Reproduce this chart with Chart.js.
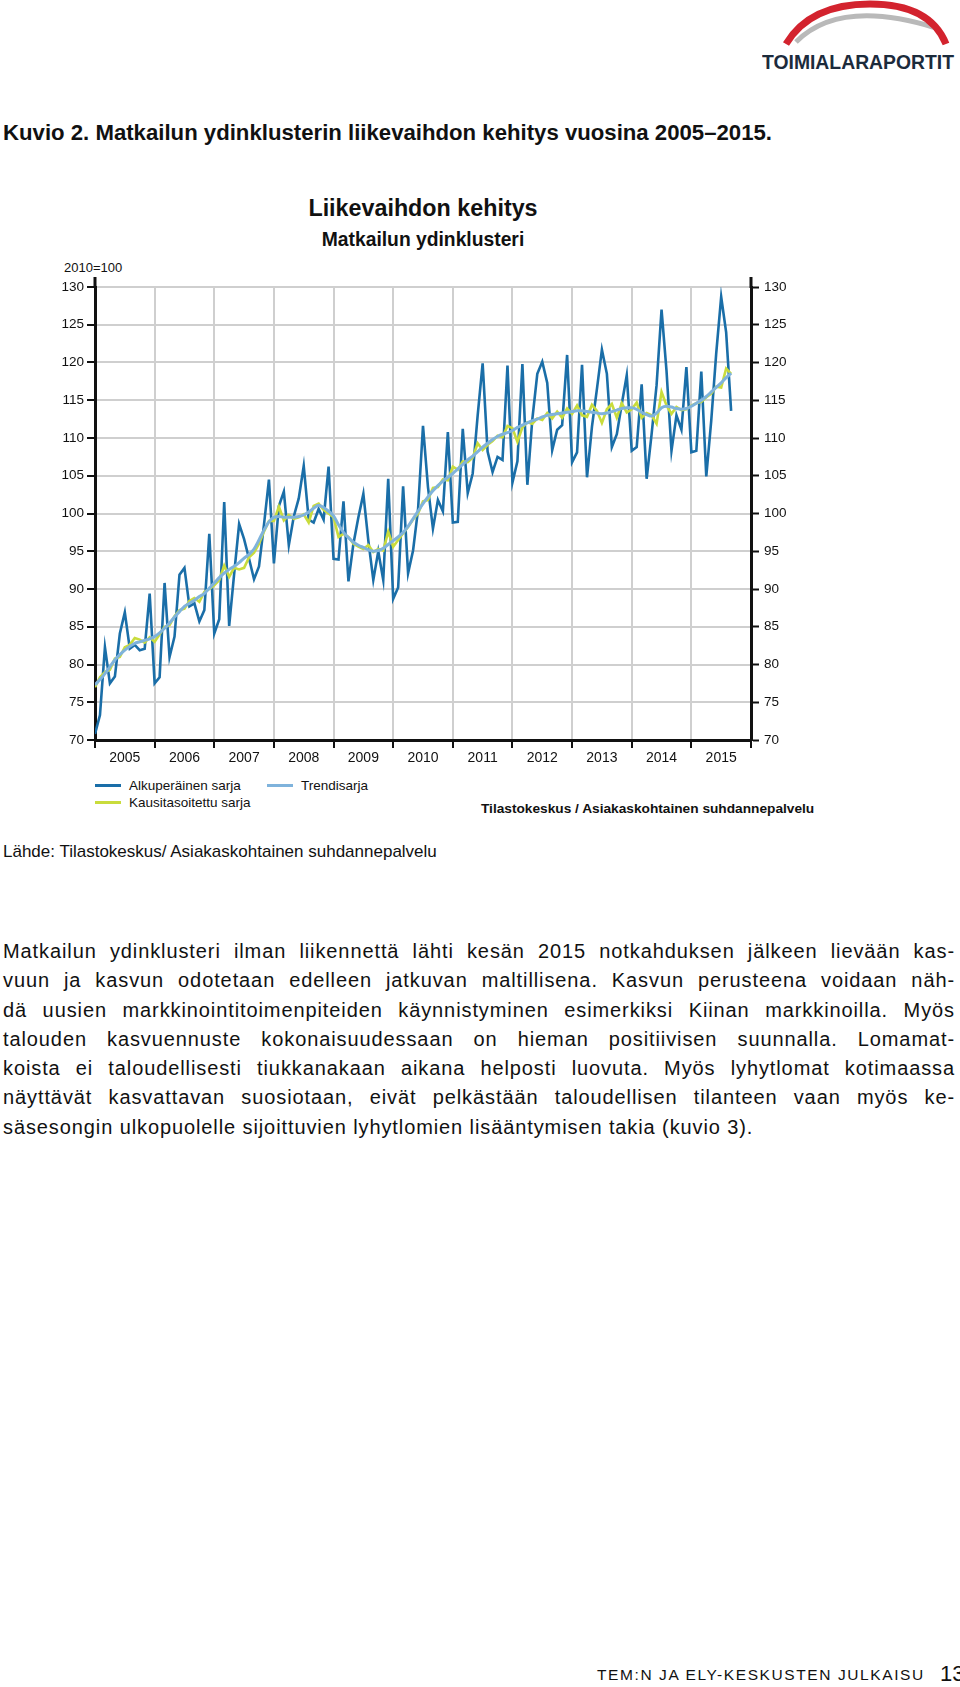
<!DOCTYPE html>
<html lang="fi">
<head>
<meta charset="utf-8">
<script src="https://cdn.jsdelivr.net/npm/chart.js@4.4.1/dist/chart.umd.min.js"></script>
<style>
  html, body { margin: 0; padding: 0; background: #fff; }
  body { width: 960px; height: 1687px; position: relative; font-family: "Liberation Sans", Arial, sans-serif; color: #111; overflow: hidden; }
  .abs { position: absolute; white-space: nowrap; }
  .fit { transform-origin: 0 0; }
  #caption { left: 3px; top: 121px; font-weight: bold; font-size: 21.5px; }
  #title { left: 0; width: 846px; text-align: center; top: 195px; font-weight: bold; font-size: 23.3px; }
  #subtitle { left: 0; width: 846px; text-align: center; top: 229px; font-weight: bold; font-size: 19.3px; }
  #base { left: 64px; top: 260px; font-size: 13px; }
  #chartBox { position: absolute; left: 0; top: 260px; width: 960px; height: 518px; }
  .leg { position: absolute; font-size: 13.5px; white-space: nowrap; }
  .leg i { display: inline-block; width: 26px; height: 3px; vertical-align: middle; margin-right: 8px; position: relative; top: -1px; }
  #source2 { left: 481px; top: 801px; font-weight: bold; font-size: 13.7px; }
  #lahde { left: 3px; top: 842px; font-size: 17px; }
  #text { position: absolute; left: 3px; top: 937px; width: 952px; font-size: 20px; letter-spacing: 0.9px; line-height: 29.3px; }
  #text div { text-align: justify; text-align-last: justify; white-space: nowrap; }
  #text div.last { text-align-last: left; }
  #footer { left: 597px; top: 1666px; font-size: 15.5px; letter-spacing: 1.6px; }
  #pageno { left: 940px; top: 1661px; font-size: 22px; }
  #logoText { left: 762px; top: 51px; font-weight: bold; font-size: 20px; color: #1c2b3c; }
</style>
</head>
<body>
<svg class="abs" style="left:770px;top:0" width="190" height="50">
  <path d="M 26 42 Q 70 -2 166 28" fill="none" stroke="#b9b9b9" stroke-width="5"/>
  <path d="M 16 44 Q 40 4 100 4 Q 160 4 176 44" fill="none" stroke="#d3232e" stroke-width="7"/>
</svg>
<div class="abs fit" id="logoText" data-w="192">TOIMIALARAPORTIT</div>

<div class="abs fit" id="caption" data-w="769">Kuvio 2. Matkailun ydinklusterin liikevaihdon kehitys vuosina 2005–2015.</div>

<div class="abs" id="title">Liikevaihdon kehitys</div>
<div class="abs" id="subtitle">Matkailun ydinklusteri</div>
<div class="abs" id="base">2010=100</div>

<div id="chartBox"><canvas id="chart" width="960" height="518"></canvas></div>

<div class="leg" style="left:95px;top:778px"><i style="background:#1a6ea8"></i>Alkuperäinen sarja</div>
<div class="leg" style="left:267px;top:778px"><i style="background:#7fb3dc"></i>Trendisarja</div>
<div class="leg" style="left:95px;top:795px"><i style="background:#c9dc3c"></i>Kausitasoitettu sarja</div>
<div class="abs" id="source2">Tilastokeskus / Asiakaskohtainen suhdannepalvelu</div>

<div class="abs" id="lahde">Lähde: Tilastokeskus/ Asiakaskohtainen suhdannepalvelu</div>

<div id="text">
  <div>Matkailun ydinklusteri ilman liikennettä lähti kesän 2015 notkahduksen jälkeen lievään kas-</div>
  <div>vuun ja kasvun odotetaan edelleen jatkuvan maltillisena. Kasvun perusteena voidaan näh-</div>
  <div>dä uusien markkinointitoimenpiteiden käynnistyminen esimerkiksi Kiinan markkinoilla. Myös</div>
  <div>talouden kasvuennuste kokonaisuudessaan on hieman positiivisen suunnalla. Lomamat-</div>
  <div>koista ei taloudellisesti tiukkanakaan aikana helposti luovuta. Myös lyhytlomat kotimaassa</div>
  <div>näyttävät kasvattavan suosiotaan, eivät pelkästään taloudellisen tilanteen vaan myös ke-</div>
  <div class="last">säsesongin ulkopuolelle sijoittuvien lyhytlomien lisääntymisen takia (kuvio 3).</div>
</div>

<div class="abs" id="footer">TEM:N JA ELY-KESKUSTEN JULKAISU</div>
<div class="abs" id="pageno">13</div>

<script>
// kapeat otsikkotekstit leveyteen
document.querySelectorAll(".fit").forEach((el) => {
  const w = el.getBoundingClientRect().width;
  el.style.transform = "scaleX(" + (Number(el.dataset.w) / w) + ")";
});

// vuodet x-akselilla
const years = [2005, 2006, 2007, 2008, 2009, 2010, 2011, 2012, 2013, 2014, 2015];
const firstYear = 2005;

// Alkuperäinen sarja, kuukausittain 1/2005 - 9/2015
const alkuperainen = [
  70.8, 73.3, 82.3, 77.5, 78.4, 84.1, 86.9, 82.1, 82.6, 81.9, 82.1, 89.4,
  77.5, 78.3, 90.8, 81.0, 83.7, 91.9, 92.8, 87.7, 88.1, 85.7, 87.2, 97.3,
  84.1, 86.0, 101.5, 85.1, 92.0, 98.6, 96.6, 94.0, 91.3, 93.0, 98.5, 104.5,
  93.4, 101.0, 102.9, 95.8, 99.6, 102.0, 106.3, 99.2, 98.8, 100.6, 99.2, 106.2,
  94.0, 93.9, 101.6, 91.0, 96.0, 99.5, 102.6, 96.4, 91.2, 95.0, 91.2, 104.6,
  88.7, 90.2, 103.6, 92.1, 95.1, 100.5, 111.6, 103.5, 98.0, 101.8, 100.3, 110.8,
  98.8, 98.9, 111.2, 102.7, 105.3, 113.0, 119.9, 108.2, 105.5, 107.5, 107.1, 119.6,
  104.1, 106.9, 119.8, 103.8, 112.5, 118.5, 120.1, 117.3, 108.4, 111.1, 111.7, 121.0,
  106.8, 108.1, 119.7, 104.8, 111.5, 116.5, 121.7, 118.5, 108.8, 110.5, 114.5, 118.3,
  108.3, 108.8, 117.1, 104.6, 110.5, 117.0, 127.0, 118.9, 108.3, 113.0, 111.1, 119.4,
  108.1, 108.3, 118.8, 104.9, 112.3, 121.2, 128.7, 124.0, 113.6
];

// Kausitasoitettu sarja
const kausitasoitettu = [
  77.0, 78.3, 79.0, 79.3, 80.8, 81.0, 82.3, 82.6, 83.5, 83.3, 82.9, 83.6,
  83.0, 84.0, 85.0, 85.2, 86.4, 87.2, 87.4, 88.4, 88.8, 88.3, 89.6, 90.0,
  90.5, 91.2, 93.1, 91.6, 92.8, 92.6, 92.8, 94.2, 94.8, 96.0, 97.6, 99.0,
  99.0, 100.9, 99.1, 99.8, 99.3, 99.5, 99.9, 98.8, 101.0, 101.3, 100.5, 100.0,
  99.5, 96.9, 97.3, 96.9, 96.0, 95.6, 95.3, 95.8, 94.9, 95.3, 95.1, 97.6,
  95.6, 96.5, 97.4, 98.2, 99.2, 100.0, 101.6, 101.8, 103.4, 103.5, 104.5, 104.4,
  106.2, 105.8, 106.9, 106.8, 107.4, 109.3, 108.4, 109.1, 109.6, 110.3, 110.1, 111.6,
  111.3, 109.5, 111.4, 112.1, 111.9, 112.6, 112.4, 113.3, 112.6, 113.5, 112.7, 113.9,
  113.2, 114.3, 113.0, 112.8, 114.4, 113.6, 112.0, 113.8, 114.5, 112.7, 114.6, 113.4,
  113.8, 114.7, 112.7, 113.3, 113.0, 111.9, 116.1, 114.3, 113.2, 114.1, 113.7, 113.8,
  114.3, 114.6, 114.8, 115.4, 115.9, 116.8, 116.7, 119.2, 118.5
];

// Trendisarja
const trendi = [
  77.3, 78.0, 78.8, 79.7, 80.6, 81.3, 81.9, 82.4, 82.8, 83.0, 83.2, 83.4,
  83.7, 84.2, 84.8, 85.5, 86.3, 87.0, 87.7, 88.1, 88.5, 89.0, 89.4, 90.1,
  90.8, 91.5, 92.1, 92.6, 93.0, 93.5, 94.1, 94.6, 95.3, 96.5, 97.8, 98.9,
  99.5, 99.6, 99.5, 99.5, 99.5, 99.6, 99.8, 100.2, 100.7, 101.1, 100.8, 100.3,
  99.7, 98.5, 97.5, 96.8, 96.2, 95.8, 95.5, 95.2, 95.0, 95.1, 95.4, 95.9,
  96.4, 96.9, 97.5, 98.3, 99.3, 100.3, 101.3, 102.2, 103.0, 103.7, 104.3, 104.8,
  105.3, 105.9, 106.5, 107.1, 107.6, 108.2, 108.8, 109.3, 109.8, 110.2, 110.5, 110.7,
  111.0, 111.4, 111.7, 112.0, 112.3, 112.5, 112.8, 113.0, 113.1, 113.2, 113.3, 113.4,
  113.5, 113.6, 113.6, 113.5, 113.4, 113.3, 113.2, 113.3, 113.5, 113.7, 113.9, 114.0,
  114.0, 113.8, 113.4, 113.1, 112.9, 113.3, 114.0, 114.2, 114.1, 113.9, 113.8, 113.9,
  114.2, 114.6, 115.0, 115.5, 116.1, 116.7, 117.3, 118.0, 118.6
];

// kuukaudet vuosina (1/2005 = 2005.0)
const kuukaudet = alkuperainen.map((v, i) => firstYear + i / 12);

const tickFont = { family: "'Liberation Sans', Arial, sans-serif", size: 13.5 };
const gridColor = "#cfcfcf";
const axisColor = "#111";

// pystyakselit jatkuvat hieman ylimmän ruudukkoviivan yli
const axisExtend = {
  id: "axisExtend",
  afterDraw(chart) {
    const { ctx, chartArea } = chart;
    ctx.save();
    ctx.strokeStyle = axisColor;
    ctx.lineWidth = 3;
    ctx.beginPath();
    ctx.moveTo(chartArea.left, chartArea.top - 10);
    ctx.lineTo(chartArea.left, chartArea.top + 1);
    ctx.moveTo(chartArea.right, chartArea.top - 10);
    ctx.lineTo(chartArea.right, chartArea.top + 1);
    ctx.stroke();
    ctx.restore();
  },
};

const data = {
  labels: kuukaudet,
  datasets: [
    {
      label: "Alkuperäinen sarja",
      data: alkuperainen,
      borderColor: "#1a6ea8",
      borderWidth: 2.6,
      tension: 0,
      order: 2,
    },
    {
      label: "Kausitasoitettu sarja",
      data: kausitasoitettu,
      borderColor: "#c9dc3c",
      borderWidth: 2.6,
      tension: 0,
      order: 1,
    },
    {
      label: "Trendisarja",
      data: trendi,
      borderColor: "#7fb3dc",
      borderWidth: 3,
      cubicInterpolationMode: "monotone",
      order: 0,
    },
  ],
};

const config = {
  type: "line",
  data: data,
  plugins: [axisExtend],
  options: {
    responsive: false,
    animation: false,
    layout: { padding: { top: 27, left: 0, right: 0, bottom: 0 } },
    elements: { point: { radius: 0 } },
    plugins: { legend: { display: false }, tooltip: { enabled: false } },
    scales: {
      x: {
        type: "linear",
        position: "bottom",
        min: 2005,
        max: 2016,
        ticks: { stepSize: 1, display: false },
        grid: { color: gridColor, lineWidth: 2, tickColor: axisColor, tickLength: 8, tickWidth: 2 },
        border: { color: axisColor, width: 3 },
        afterFit: (s) => { s.height = 8; },
      },
      x2: {
        type: "linear",
        position: "bottom",
        min: 2005,
        max: 2016,
        afterBuildTicks: (s) => { s.ticks = years.map((y) => ({ value: y + 0.5 })); },
        ticks: { callback: (v) => String(Math.floor(v)), font: { family: tickFont.family, size: 14 }, color: "#111", padding: 2, maxRotation: 0, autoSkip: false },
        grid: { display: false, drawTicks: false },
        border: { display: false },
        afterFit: (s) => { s.height = 30; },
      },
      y: {
        position: "left",
        min: 70,
        max: 130,
        ticks: { stepSize: 5, font: tickFont, color: "#111", padding: 3 },
        grid: { color: gridColor, lineWidth: 2, tickColor: axisColor, tickLength: 8, tickWidth: 2 },
        border: { color: axisColor, width: 3 },
        afterFit: (s) => { s.width = 95; },
      },
      y2: {
        position: "right",
        min: 70,
        max: 130,
        ticks: { stepSize: 5, font: tickFont, color: "#111", padding: 5 },
        grid: { drawOnChartArea: false, tickColor: axisColor, tickLength: 8, tickWidth: 2 },
        border: { color: axisColor, width: 3 },
        afterFit: (s) => { s.width = 209; },
      },
    },
  },
};

let context = document.getElementById("chart").getContext("2d");
let chart = new Chart(context, config);
</script>
</body>
</html>
